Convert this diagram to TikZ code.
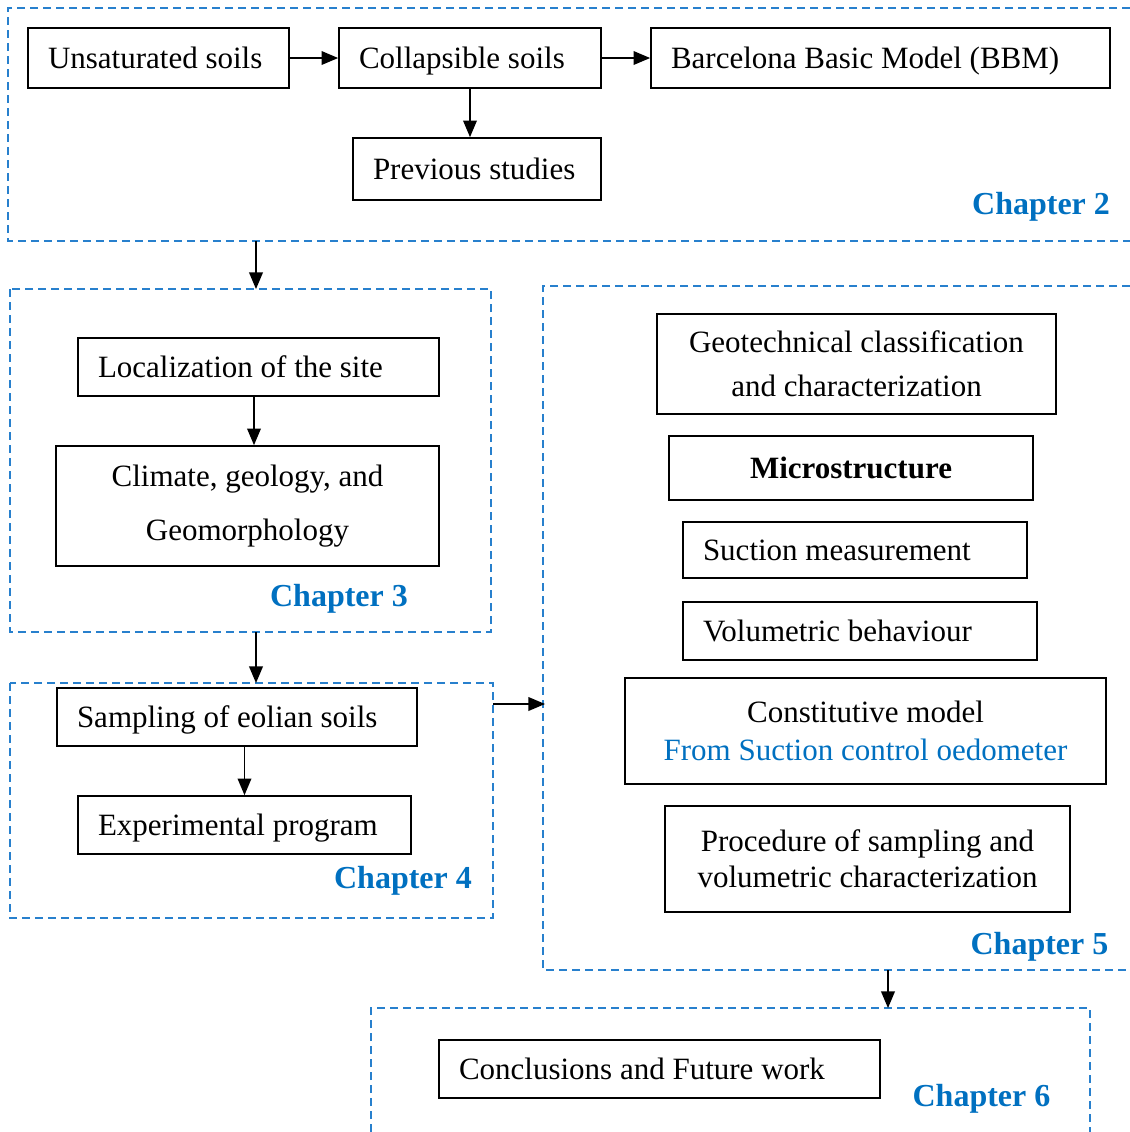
\documentclass[tikz,border=0pt]{standalone}
\usepackage{fontspec}
\setmainfont{Liberation Serif}
\usepackage{tikz}
\usetikzlibrary{arrows}
\definecolor{chblue}{RGB}{0,112,192}
\definecolor{frameblue}{RGB}{40,128,205}
\tikzset{
  box/.style={draw, line width=0.9pt, inner xsep=10pt, inner ysep=0pt, align=flush left,
    font=\fontsize{15.5}{19}\selectfont},
  lbox/.style={box, text height=12pt, text depth=2pt},
  cbox/.style={box, align=flush center},
  chap/.style={text=chblue, font=\fontsize{16}{19}\selectfont\bfseries},
  frame/.style={draw=frameblue, line width=0.8pt, dash pattern=on 4pt off 2.5pt},
  flow/.style={->, line width=0.9pt}
}
\begin{document}
\begin{tikzpicture}[line cap=butt,line join=miter,>=triangle 45,x=0.5pt,y=-0.5pt]
\useasboundingbox (0,0) rectangle (1130,1132);
% frames of the chapters
\draw [frame] (1130,8)--(8,8)--(8,241)--(1130,241);
\draw [frame] (10,289) rectangle (491,632);
\draw [frame] (10,683) rectangle (493,918);
\draw [frame] (1130,286)--(543,286)--(543,970)--(1130,970);
\draw [frame] (371,1132)--(371,1008)--(1090,1008)--(1090,1132);
\coordinate (ftwob) at (256,241);
\coordinate (fthreet) at (256,289);
\coordinate (fthreeb) at (256,632);
\coordinate (ffourt) at (256,683);
\coordinate (ffourr) at (493,704);
\coordinate (ffivel) at (545,704);
\coordinate (ffiveb) at (888,970);
\coordinate (fsixt) at (888,1008);
% chapter 2
\node [lbox, text width=110.5pt, minimum height=30pt] (unsat) at (158.5,58) {Unsaturated soils};
\node [lbox, text width=111pt, minimum height=30pt] (coll) at (470,58) {Collapsible soils};
\node [lbox, text width=209.5pt, minimum height=30pt] (bbm) at (880.5,58) {Barcelona Basic Model (BBM)};
\node [lbox, text width=104pt, minimum height=31pt] (prev) at (477,169) {Previous studies};
\node [chap, anchor=east] (chtwo) at (1117,207) {Chapter 2};
% chapter 3
\node [lbox, text width=160.5pt, minimum height=29pt] (loc) at (258.5,367) {Localization of the site};
\node [cbox, text width=171.5pt, minimum height=60pt] (clim) at (247.5,506) {Climate, geology, and\\[8pt]Geomorphology};
\node [chap] (chthree) at (339,599) {Chapter 3};
% chapter 4
\node [lbox, text width=160pt, minimum height=29pt] (samp) at (237,717) {Sampling of eolian soils};
\node [lbox, text width=146.5pt, minimum height=29pt] (exp) at (244.5,825) {Experimental program};
\node [chap] (chfour) at (403,881) {Chapter 4};
% chapter 5
\node [cbox, text width=179.5pt, minimum height=50pt] (geo) at (856.5,364) {Geotechnical classification\\[3pt]and characterization};
\node [cbox, text width=162pt, minimum height=32pt, text height=12pt, text depth=2pt] (micro) at (851,468) {\bfseries Microstructure};
\node [lbox, text width=152pt, minimum height=28pt] (suc) at (855,550) {Suction measurement};
\node [lbox, text width=157pt, minimum height=29pt] (vol) at (860,631) {Volumetric behaviour};
\node [cbox, text width=220.5pt, minimum height=53pt] (cons) at (865.5,731) {Constitutive model\\\textcolor{chblue}{From Suction control oedometer}};
\node [cbox, text width=182.5pt, minimum height=53pt] (proc) at (867.5,859) {Procedure of sampling and\\[-1pt]volumetric characterization};
\node [chap] (chfive) at (1039.5,947) {Chapter 5};
% chapter 6
\node [lbox, text width=200.5pt, minimum height=29pt] (conc) at (659.5,1069) {Conclusions and Future work};
\node [chap] (chsix) at (981.5,1099) {Chapter 6};
% arrows
\draw [flow] (unsat) -- (coll);
\draw [flow] (coll) -- (bbm);
\draw [flow] (coll.south) -- (coll.south |- prev.north);
\draw [flow] (loc.south -| 254,0) -- (clim.north -| 254,0);
\draw [flow] (exp.north |- samp.south) -- (exp.north);
\draw [flow] (ftwob) -- (fthreet);
\draw [flow] (fthreeb) -- (ffourt);
\draw [flow] (ffourr) -- (ffivel);
\draw [flow] (ffiveb) -- (fsixt);
\end{tikzpicture}
\end{document}
